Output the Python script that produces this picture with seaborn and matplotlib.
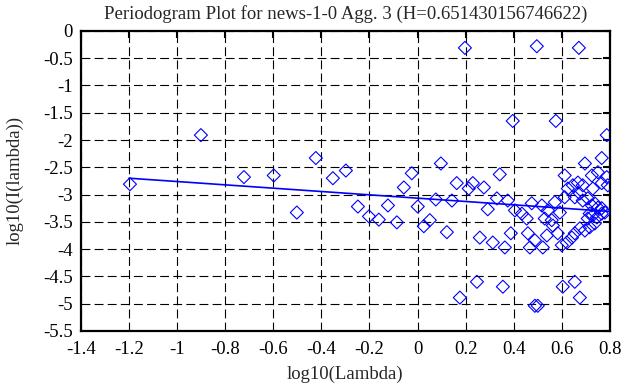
import matplotlib
matplotlib.use("Agg")
import matplotlib.pyplot as plt
import seaborn as sns

# periodogram points: log10(lambda), log10(I(lambda))
log_lambda = [
    -1.196, -0.901, -0.722, -0.598, -0.502, -0.423, -0.352, -0.298, -0.248, -0.202,
    -0.161, -0.123, -0.086, -0.057, -0.024, 0.001, 0.026, 0.051, 0.076, 0.097,
    0.122, 0.143, 0.163, 0.176, 0.197, 0.213, 0.230, 0.247, 0.259, 0.276,
    0.292, 0.313, 0.330, 0.342, 0.355, 0.363, 0.375, 0.388, 0.396,
    0.405, 0.434, 0.454, 0.459, 0.467, 0.475, 0.488, 0.488, 0.496, 0.500,
    0.517, 0.521, 0.529, 0.538, 0.542, 0.558, 0.563, 0.571, 0.575, 0.583,
    0.592, 0.600, 0.604, 0.612, 0.612, 0.621, 0.625, 0.642, 0.646, 0.654,
    0.654, 0.654, 0.667, 0.671, 0.675, 0.675, 0.675, 0.687, 0.687, 0.696,
    0.696, 0.708, 0.708, 0.716, 0.716, 0.725, 0.725, 0.729, 0.729, 0.737,
    0.737, 0.746, 0.750, 0.750, 0.766, 0.766, 0.766, 0.766, 0.779, 0.787,
    0.787, 0.791,
]
log_power = [
    -2.81, -1.91, -2.68, -2.65, -3.33, -2.33, -2.70, -2.56, -3.22, -3.40,
    -3.46, -3.20, -3.51, -2.87, -2.61, -3.22, -3.58, -3.47, -3.09, -2.43,
    -3.69, -3.11, -2.79, -4.89, -0.31, -2.89, -2.79, -4.60, -3.79, -2.87,
    -3.27, -3.88, -3.07, -2.63, -4.69, -3.97, -3.11, -3.71, -1.65,
    -3.29, -3.35, -3.44, -3.71, -3.97, -3.16, -3.84, -5.04, -0.28, -5.04,
    -3.20, -3.97, -3.44, -3.75, -3.29, -3.47, -3.57, -3.14, -1.65, -3.71,
    -3.33, -3.93, -4.69, -2.65, -3.05, -3.88, -2.89, -3.79, -2.83, -3.05,
    -3.71, -4.60, -2.78, -0.31, -2.98, -3.62, -4.89, -2.83, -3.11, -2.43,
    -3.66, -3.07, -3.44, -3.35, -3.60, -2.65, -3.20, -2.89, -3.38, -3.16,
    -3.53, -3.42, -2.59, -3.24, -2.33, -2.79, -3.25, -3.35, -3.33, -1.91,
    -2.68, -2.83,
]

# least squares fit line end points
fit_x = [-1.2, 0.8]
fit_y = [-2.70, -3.31]

x_ticks = [-1.4, -1.2, -1.0, -0.8, -0.6, -0.4, -0.2, 0.0, 0.2, 0.4, 0.6, 0.8]
x_labels = ["-1.4", "-1.2", "-1", "-0.8", "-0.6", "-0.4", "-0.2", "0", "0.2", "0.4", "0.6", "0.8"]
y_ticks = [0, -0.5, -1, -1.5, -2, -2.5, -3, -3.5, -4, -4.5, -5, -5.5]
y_labels = ["0", "-0.5", "-1", "-1.5", "-2", "-2.5", "-3", "-3.5", "-4", "-4.5", "-5", "-5.5"]

title = "Periodogram Plot for news-1-0 Agg. 3 (H=0.651430156746622)"

sns.set_theme(style="white")
plt.rcParams["font.family"] = ["Liberation Serif", "DejaVu Serif"]
plt.rcParams["axes.unicode_minus"] = False

fig, ax = plt.subplots(figsize=(6.42, 3.87), dpi=100)
fig.subplots_adjust(left=0.126, right=0.950, bottom=0.145, top=0.920)

ax.grid(True, color="black", linestyle=(0, (8, 3.8)), linewidth=0.8)
ax.set_axisbelow(True)

sns.lineplot(x=fit_x, y=fit_y, ax=ax, color="#0000ff", linewidth=1.2, zorder=3)
sns.scatterplot(x=log_lambda, y=log_power, ax=ax, marker="D", s=44,
                facecolors="none", edgecolor="#0000ff", linewidth=0.8, zorder=4)

ax.set_xlim(-1.4, 0.8)
ax.set_ylim(-5.5, 0)
ax.set_xticks(x_ticks)
ax.set_xticklabels(x_labels)
ax.set_yticks(y_ticks)
ax.set_yticklabels(y_labels)

ax.tick_params(direction="in", length=5, width=1.5, top=True, right=True,
               labelsize=13.5, colors="black", pad=6)
ax.tick_params(axis="x", pad=7)
for spine in ax.spines.values():
    spine.set_visible(True)
    spine.set_color("black")
    spine.set_linewidth(1.6)

ax.set_title(title, fontsize=13.5, pad=9)
ax.set_xlabel("log10(Lambda)", fontsize=13.5, labelpad=6)
ax.set_ylabel("log10(I(lambda))", fontsize=13.5, labelpad=14)

plt.savefig("out.png", dpi=100)
